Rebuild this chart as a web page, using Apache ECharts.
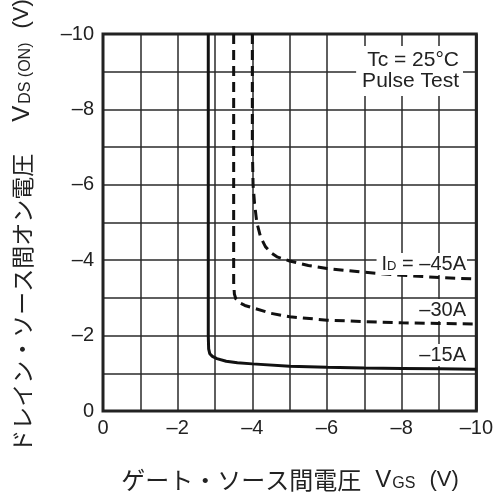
<!DOCTYPE html>
<html><head><meta charset="utf-8">
<script src="https://cdn.jsdelivr.net/npm/echarts@6/dist/echarts.min.js"></script>
<style>html,body{margin:0;padding:0;background:#fff}#c{width:496px;height:502px}</style>
</head><body><div id="c"></div>
<script>
// Data (VGS, VDS(ON)) in volts
const id15 = [[-2.82,-10],[-2.82,-2.0],[-2.83,-1.65],[-2.86,-1.52],[-2.93,-1.45],[-3.05,-1.39],[-3.3,-1.32],[-3.6,-1.28],[-4.0,-1.25],[-5.0,-1.19],[-6.0,-1.16],[-7.0,-1.14],[-8.0,-1.13],[-9.0,-1.12],[-10,-1.11]];
const id30 = [[-3.5,-10],[-3.5,-3.4],[-3.52,-3.1],[-3.56,-2.97],[-3.64,-2.88],[-3.8,-2.8],[-4.0,-2.74],[-4.5,-2.59],[-5.0,-2.5],[-6.0,-2.41],[-7.0,-2.37],[-8.0,-2.34],[-9.0,-2.32],[-10,-2.31]];
const id45 = [[-4.0,-10],[-4.0,-7.0],[-4.02,-6.0],[-4.06,-5.5],[-4.12,-5.0],[-4.22,-4.62],[-4.35,-4.36],[-4.5,-4.2],[-4.66,-4.09],[-5.0,-3.98],[-5.5,-3.86],[-6.0,-3.78],[-7.0,-3.68],[-8.0,-3.6],[-9.0,-3.54],[-10,-3.5]];
const seriesNames = ['–15A','–30A','–45A'];

const FONT = '"Liberation Sans", Arial, sans-serif';
const JFONT = '"Noto Sans CJK JP", "Liberation Sans", sans-serif';
const fmt = v => (Math.round(v) % 2 !== 0) ? '' : (v < 0 ? '\u2013' + Math.abs(v) : String(v));
const C = '#222';

const chart = echarts.init(document.getElementById('c'));
const lineBase = {type:'line', showSymbol:false, symbol:'none', silent:true};
chart.setOption({
  animation:false,
  grid:{left:103, right:17, top:34, bottom:91, show:true, borderColor:'#222', borderWidth:3, z:3},
  xAxis:{type:'value', min:-10, max:0, interval:1, inverse:true,
    axisLine:{show:false}, axisTick:{show:false},
    splitLine:{show:true, lineStyle:{color:'#2a2a2a', width:1.5}},
    axisLabel:{formatter:fmt, fontFamily:FONT, fontSize:20, color:C, margin:7}},
  yAxis:{type:'value', min:-10, max:0, interval:1, inverse:true,
    axisLine:{show:false}, axisTick:{show:false},
    splitLine:{show:true, lineStyle:{color:'#2a2a2a', width:1.5}},
    axisLabel:{formatter:fmt, fontFamily:FONT, fontSize:20, color:C, margin:9}},
  series:[
    Object.assign({}, lineBase, {name:seriesNames[0], data:id15, lineStyle:{color:'#111', width:3, type:'solid'}}),
    Object.assign({}, lineBase, {name:seriesNames[1], data:id30, lineStyle:{color:'#111', width:3, type:[10,6]}}),
    Object.assign({}, lineBase, {name:seriesNames[2], data:id45, lineStyle:{color:'#111', width:3, type:[10,6]}})
  ],
  graphic:[
    {type:'text', x:463, y:71, z:10, style:{text:'Tc = 25°C\nPulse Test', font:'21px '+FONT, fill:C, align:'right', verticalAlign:'middle', lineHeight:21, backgroundColor:'#fff', padding:[4,4,4,6]}},
    {type:'text', x:467, y:264, z:10, style:{text:'{a|I}{b|D}{a| = \u201345A}', align:'right', verticalAlign:'middle', backgroundColor:'#fff', padding:[1,1,1,5],
      rich:{a:{fontSize:20, fontFamily:FONT, fill:C}, b:{fontSize:13, fontFamily:FONT, fill:C, padding:[5,0,0,0]}}}},
    {type:'text', x:467, y:310, z:10, style:{text:'\u201330A', font:'20px '+FONT, fill:C, align:'right', verticalAlign:'middle', backgroundColor:'#fff', padding:[1,1,1,3]}},
    {type:'text', x:467, y:355, z:10, style:{text:'\u201315A', font:'20px '+FONT, fill:C, align:'right', verticalAlign:'middle', backgroundColor:'#fff', padding:[1,1,1,3]}},
    {type:'text', x:290, y:480, z:10, style:{text:'{j|ゲート・ソース間電圧}{v|V}{b|GS}{p|(V)}', align:'center', verticalAlign:'middle',
      rich:{j:{fontSize:24, fontFamily:JFONT, fill:C}, v:{fontSize:24, fontFamily:FONT, fill:C, padding:[0,0,0,14]}, b:{fontSize:16, fontFamily:FONT, fill:C, padding:[7,0,0,1]}, p:{fontSize:22, fontFamily:FONT, fill:C, padding:[0,0,0,14]}}}},
    {type:'text', x:22, y:226, rotation:Math.PI/2, z:10, style:{text:'{j|ドレイン・ソース間オン電圧}{v|V}{b|DS (ON)}{p|(V)}', align:'center', verticalAlign:'middle',
      rich:{j:{fontSize:23, fontFamily:JFONT, fill:C}, v:{fontSize:24, fontFamily:FONT, fill:C, padding:[0,0,0,32]}, b:{fontSize:16, fontFamily:FONT, fill:C, padding:[7,0,0,2]}, p:{fontSize:22, fontFamily:FONT, fill:C, padding:[0,0,0,14]}}}}
  ]
});
</script>
</body></html>
